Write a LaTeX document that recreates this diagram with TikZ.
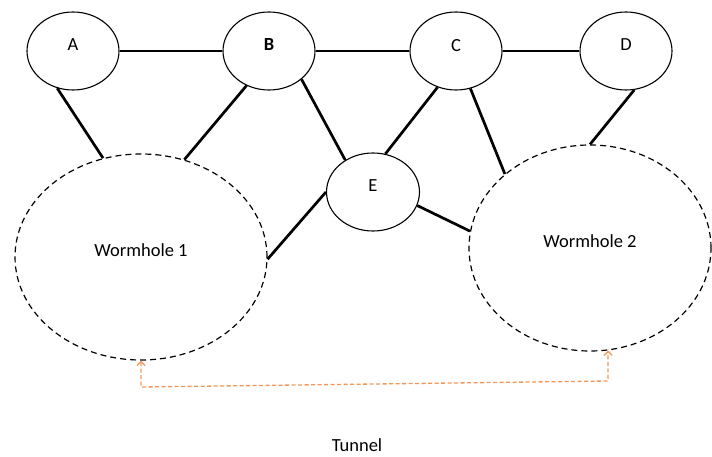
\documentclass[tikz,border=0pt]{standalone}
\usepackage{fontspec}
\setmainfont{Carlito}
\usepackage{tikz}
\usetikzlibrary{calc,shapes.geometric,arrows.meta}
\definecolor{tunnelorange}{RGB}{244,150,88}
\tikzset{
% Two node styles for the network: routers and wormhole ends
site node/.style={ellipse,draw,line width=1.1pt,inner sep=0,minimum width=92,minimum height=78,text depth=12pt},
hole node/.style={ellipse,draw,dashed,dash pattern=on 6pt off 4pt,line width=1.2pt,inner sep=0,text depth=13pt},
link/.style={line width=2.7pt},
tunnel/.style={tunnelorange,line width=1.3pt,dash pattern=on 4pt off 2.5pt,{Straight Barb[length=4pt,width=8pt]}-{Straight Barb[length=4pt,width=8pt]}}
}

\begin{document}
\begin{tikzpicture}[x=1pt,y=-1pt,font=\fontsize{18.5}{22}\selectfont]
      \useasboundingbox (0,0) rectangle (712,457);
      % The wormhole ends
      \node(W1)[hole node,minimum width=252,minimum height=206] at (141,257) {Wormhole 1};
      \node(W2)[hole node,minimum width=242,minimum height=206] at (590,248) {Wormhole 2};
      % The sites
      \node(A)[site node] at (73,51) {A};
      \node(B)[site node] at (269,51) {\textbf{B}};
      \node(C)[site node] at (456,51) {C};
      \node(D)[site node] at (626,51) {D};
      \node(E)[site node,minimum width=93] at (373,192) {E};
      % top row
      \draw[link] (A) -- (B);
      \draw[link] (B.east) -- (C.west);
      \draw[link] (C) -- (D);
      % links down to E and the wormholes
      \draw[link] (A.247) -- (W1.111);
      \draw[link] (B.237) -- (W1.66);
      \draw[link] (B.319) -- (E.131);
      \draw[link] (C.243) -- (E.72);
      \draw[link] (C.291) -- (W2.139);
      \draw[link] (D.282) -- (W2.90);
      \draw[link] (E.180) -- (W1.359);
      \draw[link] (E.343) -- (W2.172);
      % the tunnel between the two ends
      \coordinate (t1) at (141,387);
      \coordinate (t2) at (608,381);
      \draw[tunnel] (W1.south) -- (t1) -- (t2) -- (W2.280);
      \node(tunnel)[inner sep=0] at (357,445) {Tunnel};
    \end{tikzpicture}
\end{document}
